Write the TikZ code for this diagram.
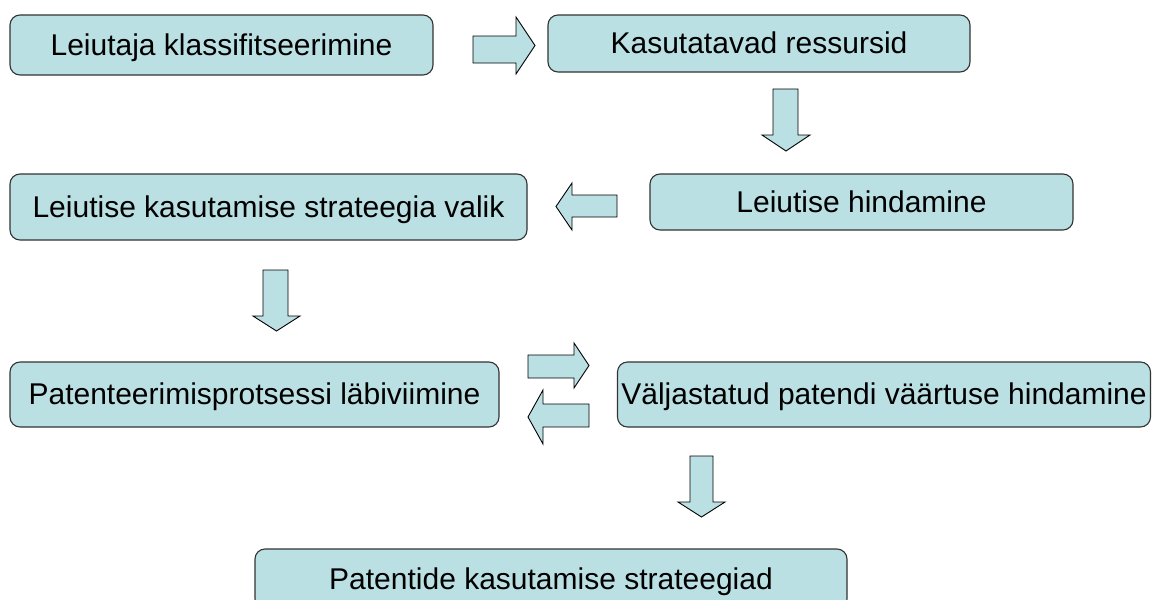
\documentclass[tikz,border=0pt]{standalone}
\usepackage{fontspec}
\setmainfont{Liberation Sans}
\definecolor{boxfill}{HTML}{BBE0E3}
\definecolor{boxline}{HTML}{333333}
\tikzset{
  box/.style={draw=boxline, fill=boxfill, line width=1.1pt, rounded corners=10pt,
    inner sep=0pt, font=\fontsize{30}{36}\selectfont, text height=27.15pt, text depth=6.36pt},
  blk/.style={draw=black, fill=boxfill, line width=0.9pt, line join=miter}
}
\begin{document}
\begin{tikzpicture}[x=1pt,y=-1pt]
\useasboundingbox (0,0) rectangle (1152,600);
\clip (0,0) rectangle (1152,600);
\fill[white] (0,0) rectangle (1152,600);
% boxes
\node[box, minimum width=423pt, minimum height=60pt] (b1) at (221.5,45) {Leiutaja klassifitseerimine};
\node[box, minimum width=422pt, minimum height=57pt] (b2) at (759,43.5) {Kasutatavad ressursid};
\node[box, minimum width=423pt, minimum height=56pt] (b3) at (861.5,202) {Leiutise hindamine};
\node[box, minimum width=517pt, minimum height=66pt] (b4) at (268.5,207) {Leiutise kasutamise strateegia valik};
\node[box, minimum width=489pt, minimum height=65pt] (b5) at (254.5,394.5) {Patenteerimisprotsessi läbiviimine};
\node[box, minimum width=533pt, minimum height=65pt] (b6) at (884,394.5) {Väljastatud patendi väärtuse hindamine};
\node[box, minimum width=592pt, minimum height=60pt] (b7) at (551,579) {Patentide kasutamise strateegiad};
% block arrows
% right arrow b1 -> b2
\draw[blk] (473,36) -- (516,36) -- (516,17) -- (535,45.5) -- (516,74) -- (516,63) -- (473,63) -- cycle;
% down arrow b2 -> b3
\draw[blk] (773,89) -- (798,89) -- (798,135) -- (810,135) -- (786,151) -- (762,135) -- (773,135) -- cycle;
% left arrow b3 -> b4
\draw[blk] (617,195) -- (572,195) -- (572,183) -- (556,206.5) -- (572,230) -- (572,217) -- (617,217) -- cycle;
% down arrow b4 -> b5
\draw[blk] (263,270) -- (288,270) -- (288,316) -- (300,316) -- (276.5,331) -- (253,316) -- (263,316) -- cycle;
% right arrow b5 -> b6
\draw[blk] (528,355) -- (574,355) -- (574,343) -- (589,365.5) -- (574,388) -- (574,378) -- (528,378) -- cycle;
% left arrow b6 -> b5
\draw[blk] (589,404) -- (543,404) -- (543,390) -- (528,417) -- (543,444) -- (543,427) -- (589,427) -- cycle;
% down arrow b6 -> b7
\draw[blk] (690,456) -- (713,456) -- (713,502) -- (725,502) -- (701.5,517) -- (678,502) -- (690,502) -- cycle;
\end{tikzpicture}
\end{document}
